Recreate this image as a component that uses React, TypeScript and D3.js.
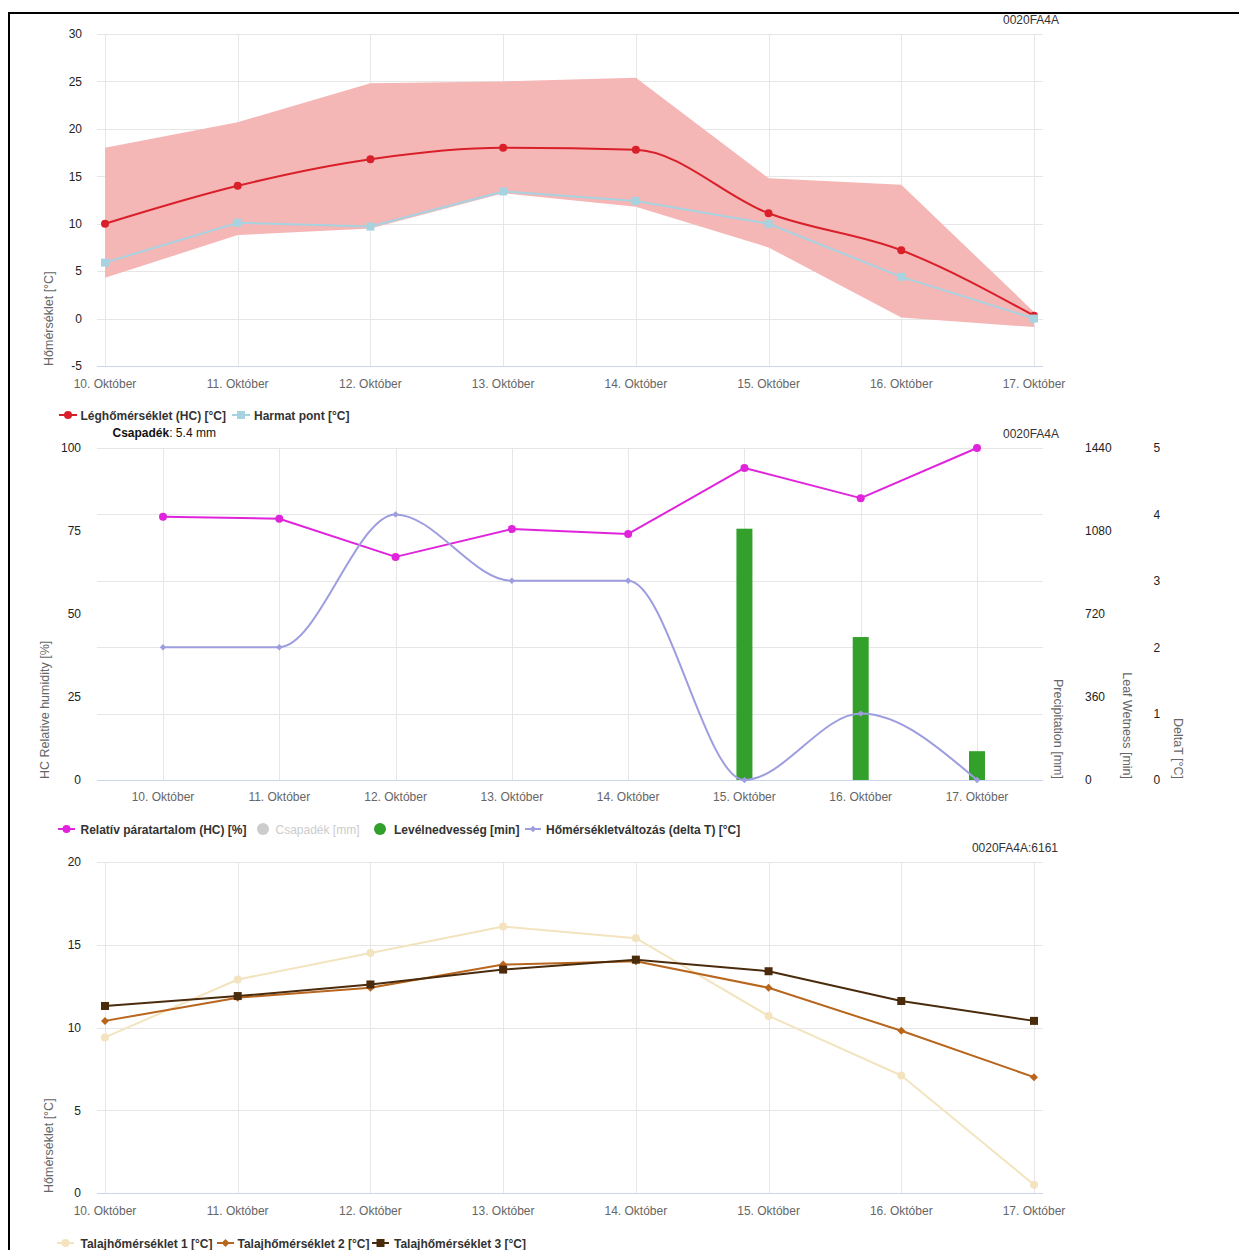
import React from "react";
import * as d3 from "d3";

// ---------- data ----------
const categories = [
  "10. Október",
  "11. Október",
  "12. Október",
  "13. Október",
  "14. Október",
  "15. Október",
  "16. Október",
  "17. Október",
];

// chart 1 – air temperature
const airTemp = [10, 14, 16.8, 18, 17.8, 11.1, 7.2, 0.3];
const dewPoint = [5.9, 10.1, 9.7, 13.4, 12.4, 10.0, 4.4, 0.0];
const tempMax = [18, 20.7, 24.8, 25.0, 25.4, 14.8, 14.1, 0.7];
const tempMin = [4.3, 8.8, 9.5, 13.2, 11.8, 7.5, 0.1, -0.9];
const tempTicks = [-5, 0, 5, 10, 15, 20, 25, 30];

// chart 2 – humidity / leaf wetness / delta T
const humidity = [79.3, 78.7, 67.2, 75.6, 74.1, 94, 84.9, 100];
const leafWetness = [0, 0, 0, 0, 0, 1090, 620, 125];
const deltaT = [2, 2, 4, 3, 3, 0, 1, 0];
const humidityTicks = [0, 25, 50, 75, 100];
const leafTicks = [0, 360, 720, 1080, 1440];
const deltaTicks = [0, 1, 2, 3, 4, 5];
const precipitationTotal = ": 5.4 mm";

// chart 3 – soil temperature
const soil1 = [9.4, 12.9, 14.5, 16.1, 15.4, 10.7, 7.1, 0.5];
const soil2 = [10.4, 11.8, 12.4, 13.8, 14.0, 12.4, 9.8, 7.0];
const soil3 = [11.3, 11.9, 12.6, 13.5, 14.1, 13.4, 11.6, 10.4];
const soilTicks = [0, 5, 10, 15, 20];

// ---------- style ----------
const FONT = '"Liberation Sans", Arial, Helvetica, sans-serif';
const GRID = "#e6e6e6";
const AXIS = "#ccd6eb";
const RED = "#d9202a";
const BAND = "#f5b6b6";
const DEW = "#a7d2e0";
const MAGENTA = "#e024dc";
const LAVENDER = "#9d9de0";
const GREEN = "#33a02c";
const SOIL1 = "#f3e4bf";
const SOIL2 = "#b8651e";
const SOIL3 = "#4a2b0c";

const PLOT_L = 97;
const PLOT_R = 1043;

const diamond = (x: number, y: number, r: number) =>
  `M${x},${y - r}L${x + r},${y}L${x},${y + r}L${x - r},${y}Z`;

type Marker = "circle" | "square" | "diamond";
const MarkerShape = ({ x, y, shape, r, fill }: { x: number; y: number; shape: Marker; r: number; fill: string }) => {
  if (shape === "circle") return <circle cx={x} cy={y} r={r} fill={fill} />;
  if (shape === "square") return <rect x={x - r} y={y - r} width={2 * r} height={2 * r} fill={fill} />;
  return <path d={diamond(x, y, r)} fill={fill} />;
};

function LineSeries({
  values,
  x,
  y,
  color,
  shape,
  r,
  curve,
  width = 2,
}: {
  values: number[];
  x: d3.ScalePoint<string>;
  y: d3.ScaleLinear<number, number>;
  color: string;
  shape: Marker;
  r: number;
  curve: d3.CurveFactory;
  width?: number;
}) {
  const gen = d3
    .line<number>()
    .x((_, i) => x(categories[i]) as number)
    .y((d) => y(d))
    .curve(curve);
  return (
    <g>
      <path d={gen(values) || ""} fill="none" stroke={color} strokeWidth={width} strokeLinejoin="round" />
      {values.map((v, i) => (
        <MarkerShape key={i} x={x(categories[i]) as number} y={y(v)} shape={shape} r={r} fill={color} />
      ))}
    </g>
  );
}

function Grid({
  x,
  y,
  ticks,
  top,
  bottom,
}: {
  x: d3.ScalePoint<string>;
  y: d3.ScaleLinear<number, number>;
  ticks: number[];
  top: number;
  bottom: number;
}) {
  return (
    <g>
      {ticks.map((t) => (
        <line key={"h" + t} x1={PLOT_L} x2={PLOT_R} y1={Math.round(y(t)) + 0.5} y2={Math.round(y(t)) + 0.5} stroke={GRID} strokeWidth={1} />
      ))}
      {categories.map((c) => (
        <line key={"v" + c} x1={Math.round(x(c) as number) + 0.5} x2={Math.round(x(c) as number) + 0.5} y1={top} y2={bottom} stroke={GRID} strokeWidth={1} />
      ))}
      <line x1={PLOT_L} x2={PLOT_R} y1={bottom + 0.5} y2={bottom + 0.5} stroke={AXIS} strokeWidth={1} />
    </g>
  );
}

function XLabels({ x, y }: { x: d3.ScalePoint<string>; y: number }) {
  return (
    <g fontFamily={FONT} fontSize={12} fill="#666" textAnchor="middle">
      {categories.map((c) => (
        <text key={c} x={x(c) as number} y={y}>
          {c}
        </text>
      ))}
    </g>
  );
}

function YLabels({
  y,
  ticks,
  xPos,
  anchor,
  fmt = (v: number) => String(v),
}: {
  y: d3.ScaleLinear<number, number>;
  ticks: number[];
  xPos: number;
  anchor: "start" | "end";
  fmt?: (v: number) => string;
}) {
  return (
    <g fontFamily={FONT} fontSize={12} fill="#222" textAnchor={anchor}>
      {ticks.map((t) => (
        <text key={t} x={xPos} y={y(t) + 4.3}>
          {fmt(t)}
        </text>
      ))}
    </g>
  );
}

function LegendLine({ x0, x1, y, color, shape, r }: { x0: number; x1: number; y: number; color: string; shape: Marker; r: number }) {
  return (
    <g>
      <line x1={x0} x2={x1} y1={y} y2={y} stroke={color} strokeWidth={2} />
      <MarkerShape x={(x0 + x1) / 2} y={y} shape={shape} r={r} fill={color} />
    </g>
  );
}

export default function App() {
  // ----- scales -----
  const xTop = d3.scalePoint<string>().domain(categories).range([105, 1034]);
  const yTop = d3.scaleLinear().domain([-5, 30]).range([366, 34]);

  const xMid = d3.scalePoint<string>().domain(categories).range([163, 977]);
  const yHum = d3.scaleLinear().domain([0, 100]).range([780, 448]);
  const yLeaf = d3.scaleLinear().domain([0, 1440]).range([780, 448]);
  const yDelta = d3.scaleLinear().domain([0, 5]).range([780, 448]);

  const xBot = d3.scalePoint<string>().domain(categories).range([105, 1034]);
  const yBot = d3.scaleLinear().domain([0, 20]).range([1193, 862]);

  const band = d3
    .area<number>()
    .x((_, i) => xTop(categories[i]) as number)
    .y0((_, i) => yTop(tempMin[i]))
    .y1((d) => yTop(d))
    .curve(d3.curveLinear);

  const barW = 16;

  const legendY1 = 415;
  const legendY2 = 829;
  const legendY3 = 1243;
  const txtOff = 4.5;

  return (
    <svg
      width={1239}
      height={1250}
      style={{ position: "absolute", left: 0, top: 0, background: "#fff" }}
      fontFamily={FONT}
    >
      <rect x={0} y={0} width={1239} height={1250} fill="#fff" />
      <rect x={9} y={13} width={1260} height={1260} fill="none" stroke="#000" strokeWidth={2} />

      {/* ================= Chart 1 ================= */}
      <text x={1059} y={24} fontSize={12} fill="#333" textAnchor="end">
        0020FA4A
      </text>
      <Grid x={xTop} y={yTop} ticks={tempTicks} top={34} bottom={366} />
      <path d={band(tempMax) || ""} fill={BAND} stroke="none" />
      <LineSeries values={airTemp} x={xTop} y={yTop} color={RED} shape="circle" r={4} curve={d3.curveMonotoneX} />
      <LineSeries values={dewPoint} x={xTop} y={yTop} color={DEW} shape="square" r={4} curve={d3.curveLinear} />
      <YLabels y={yTop} ticks={tempTicks} xPos={82} anchor="end" />
      <XLabels x={xTop} y={387.5} />
      <text transform="translate(53,366) rotate(-90)" fontSize={12.5} fill="#666" textAnchor="start">
        Hőmérséklet [°C]
      </text>

      {/* legend 1 */}
      <g fontSize={12} fontWeight="bold" fill="#333">
        <LegendLine x0={59} x1={77} y={legendY1} color={RED} shape="circle" r={4} />
        <text x={80.5} y={legendY1 + txtOff}>Léghőmérséklet (HC) [°C]</text>
        <LegendLine x0={232} x1={250} y={legendY1} color={DEW} shape="square" r={4} />
        <text x={254} y={legendY1 + txtOff}>Harmat pont [°C]</text>
      </g>
      <text x={112.5} y={437} fontSize={12} fill="#111">
        <tspan fontWeight="bold">Csapadék</tspan>
        {precipitationTotal}
      </text>

      {/* ================= Chart 2 ================= */}
      <text x={1059} y={438} fontSize={12} fill="#333" textAnchor="end">
        0020FA4A
      </text>
      <Grid x={xMid} y={yDelta} ticks={deltaTicks} top={448} bottom={780} />
      {leafWetness.map((v, i) =>
        v > 0 ? (
          <rect
            key={i}
            x={(xMid(categories[i]) as number) - barW / 2}
            y={yLeaf(v)}
            width={barW}
            height={yLeaf(0) - yLeaf(v)}
            fill={GREEN}
          />
        ) : null
      )}
      <LineSeries values={humidity} x={xMid} y={yHum} color={MAGENTA} shape="circle" r={4} curve={d3.curveLinear} />
      <LineSeries values={deltaT} x={xMid} y={yDelta} color={LAVENDER} shape="diamond" r={3.2} curve={d3.curveMonotoneX} />
      <YLabels y={yHum} ticks={humidityTicks} xPos={81} anchor="end" />
      <YLabels y={yLeaf} ticks={leafTicks} xPos={1085} anchor="start" />
      <YLabels y={yDelta} ticks={deltaTicks} xPos={1153.5} anchor="start" />
      <XLabels x={xMid} y={801} />
      <text transform="translate(49,779) rotate(-90)" fontSize={12.5} fill="#666" textAnchor="start">
        HC Relative humidity [%]
      </text>
      <text transform="translate(1054,779) rotate(90)" fontSize={12.5} fill="#666" textAnchor="end">
        Precipitation [mm]
      </text>
      <text transform="translate(1123,779) rotate(90)" fontSize={12.5} fill="#666" textAnchor="end">
        Leaf Wetness [min]
      </text>
      <text transform="translate(1173.5,779) rotate(90)" fontSize={12.5} fill="#666" textAnchor="end">
        DeltaT [°C]
      </text>

      {/* legend 2 */}
      <g fontSize={12} fontWeight="bold" fill="#333">
        <LegendLine x0={58} x1={75} y={legendY2} color={MAGENTA} shape="circle" r={4} />
        <text x={80.5} y={legendY2 + txtOff}>Relatív páratartalom (HC) [%]</text>
        <circle cx={263} cy={legendY2} r={6} fill="#ccc" />
        <text x={275.5} y={legendY2 + txtOff} fill="#ccc" fontWeight="normal">
          Csapadék [mm]
        </text>
        <circle cx={380} cy={legendY2} r={6} fill={GREEN} />
        <text x={394} y={legendY2 + txtOff}>Levélnedvesség [min]</text>
        <LegendLine x0={525} x1={541} y={legendY2} color={LAVENDER} shape="diamond" r={3.2} />
        <text x={546} y={legendY2 + txtOff}>Hőmérsékletváltozás (delta T) [°C]</text>
      </g>

      {/* ================= Chart 3 ================= */}
      <text x={1058} y={852} fontSize={12} fill="#333" textAnchor="end">
        0020FA4A:6161
      </text>
      <Grid x={xBot} y={yBot} ticks={soilTicks} top={862} bottom={1193} />
      <LineSeries values={soil1} x={xBot} y={yBot} color={SOIL1} shape="circle" r={4} curve={d3.curveLinear} />
      <LineSeries values={soil2} x={xBot} y={yBot} color={SOIL2} shape="diamond" r={4} curve={d3.curveLinear} />
      <LineSeries values={soil3} x={xBot} y={yBot} color={SOIL3} shape="square" r={4} curve={d3.curveLinear} />
      <YLabels y={yBot} ticks={soilTicks} xPos={81} anchor="end" />
      <XLabels x={xBot} y={1214.5} />
      <text transform="translate(53,1193) rotate(-90)" fontSize={12.5} fill="#666" textAnchor="start">
        Hőmérséklet [°C]
      </text>

      {/* legend 3 */}
      <g fontSize={12} fontWeight="bold" fill="#333">
        <LegendLine x0={57} x1={74} y={legendY3} color={SOIL1} shape="circle" r={4} />
        <text x={80.5} y={legendY3 + txtOff}>Talajhőmérséklet 1 [°C]</text>
        <LegendLine x0={217} x1={234} y={legendY3} color={SOIL2} shape="diamond" r={4} />
        <text x={237.5} y={legendY3 + txtOff}>Talajhőmérséklet 2 [°C]</text>
        <LegendLine x0={372} x1={389} y={legendY3} color={SOIL3} shape="square" r={4} />
        <text x={394} y={legendY3 + txtOff}>Talajhőmérséklet 3 [°C]</text>
      </g>
    </svg>
  );
}
